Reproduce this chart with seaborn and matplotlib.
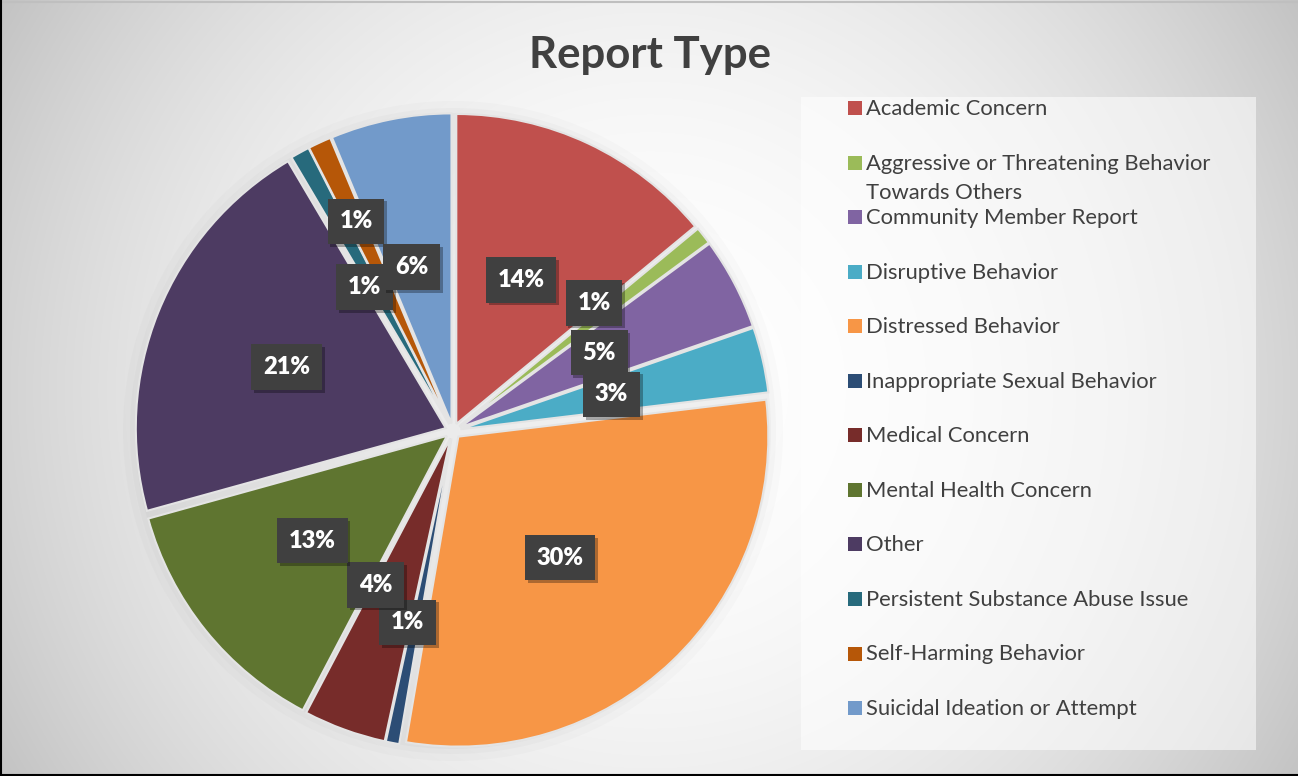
import numpy as np
import matplotlib
matplotlib.use("Agg")
import matplotlib.pyplot as plt
import matplotlib.patheffects as pe
from matplotlib.patches import Rectangle
from matplotlib.lines import Line2D
import seaborn as sns

# data (share of reports, %)
categories = [
    "Academic Concern",
    "Aggressive or Threatening Behavior\nTowards Others",
    "Community Member Report",
    "Disruptive Behavior",
    "Distressed Behavior",
    "Inappropriate Sexual Behavior",
    "Medical Concern",
    "Mental Health Concern",
    "Other",
    "Persistent Substance Abuse Issue",
    "Self-Harming Behavior",
    "Suicidal Ideation or Attempt",
]
shares = [14.0, 0.9, 4.8, 3.4, 29.6, 0.7, 4.3, 13.0, 20.8, 1.0, 1.2, 6.3]
colors = ["#C0504D", "#9BBB59", "#8064A2", "#4BACC6", "#F79646", "#2C4D75",
          "#772C2A", "#5F7530", "#4D3B62", "#276A7C", "#B65708", "#729ACA"]

# label placement: distance (fraction of radius) and angle nudge (deg), like Excel's best fit
label_r = [0.51, 0.59, 0.51, 0.50, 0.51, 0.61, 0.53, 0.55, 0.55, 0.52, 0.72, 0.52]
label_dth = [1, 4.5, 0.5, 0, -3.5, -2.5, -7, -1, 1, 3, 0, 3]

sns.set_theme(style="white")
plt.rcParams['font.family'] = ['Lato', 'DejaVu Sans']

W, H = 1298, 776
fig = plt.figure(figsize=(W / 100, H / 100), dpi=100)

# radial gradient background
bg = fig.add_axes([0, 0, 1, 1], zorder=-10)
xx, yy = np.meshgrid(np.arange(W), np.arange(H))
d = np.hypot(xx - 650, yy - 390)
g = np.clip(255 - 1.05e-4 * d ** 2, 192, 255) / 255
bg.imshow(np.dstack([g, g, g]), extent=[0, W, H, 0], aspect='auto', interpolation='bilinear')
bg.set_xlim(0, W)
bg.set_ylim(H, 0)
bg.axis('off')

# soft shadow ring behind the pie
cx, cy, R = 453, 431, 310
for k, a in [(20, 0.03), (13, 0.04), (8, 0.05)]:
    bg.add_patch(plt.Circle((cx, cy), R + k, color='#808080', alpha=a, lw=0))

# pie axes
span = 340
ax = fig.add_axes([(cx - span) / W, (H - cy - span) / H, 2 * span / W, 2 * span / H])
ax.set_facecolor('none')
wedges, _ = ax.pie(shares, colors=colors, startangle=90, counterclock=False,
                   explode=[0.025] * len(shares),
                   wedgeprops=dict(edgecolor='#e4e4e4', linewidth=1.5))
lim = span / R
ax.set_xlim(-lim, lim)
ax.set_ylim(-lim, lim)
ax.set_aspect('equal')
ax.axis('off')

for w, s, r, dth in zip(wedges, shares, label_r, label_dth):
    th = np.deg2rad((w.theta1 + w.theta2) / 2 + dth)
    x = w.center[0] + r * np.cos(th)
    y = w.center[1] + r * np.sin(th)
    t = ax.text(x, y, f"{s:.0f}%", ha='center', va='center', color='white',
                fontsize=17, fontweight='heavy', zorder=5,
                bbox=dict(boxstyle='square,pad=0.5', fc='#404040', lw=0))
    t.get_bbox_patch().set_path_effects([
        pe.SimplePatchShadow(offset=(2, -2), shadow_rgbFace='black', alpha=0.3),
        pe.Normal()])

# title
fig.text(650 / W, 1 - 55 / H, "Report Type", ha='center', va='center',
         fontsize=31.5, fontweight='bold', color='#404040')

# legend box
fig.add_artist(Rectangle((801 / W, (H - 750) / H), 455 / W, 653 / H,
                         transform=fig.transFigure, fc='white', alpha=0.55, lw=0))
step = 54.55
for i, (lab, col) in enumerate(zip(categories, colors)):
    yc = 108 + i * step
    fig.add_artist(Rectangle((848 / W, (H - yc - 7) / H), 14 / W, 14 / H,
                             transform=fig.transFigure, fc=col, lw=0))
    for j, line in enumerate(lab.split("\n")):
        fig.text(866 / W, 1 - (yc + 1 + j * 29) / H, line, ha='left', va='center',
                 fontsize=15.8, color='#404040')

# frame lines
fig.add_artist(Line2D([0, 1], [1 - 2 / H, 1 - 2 / H], transform=fig.transFigure, color='#bfbfbf', lw=1.5))
fig.add_artist(Line2D([1 / W, 1 / W], [0, 1], transform=fig.transFigure, color='black', lw=1.5))
fig.add_artist(Line2D([0, 1], [1 / H, 1 / H], transform=fig.transFigure, color='black', lw=1.5))

fig.savefig("out.png", dpi=100)
